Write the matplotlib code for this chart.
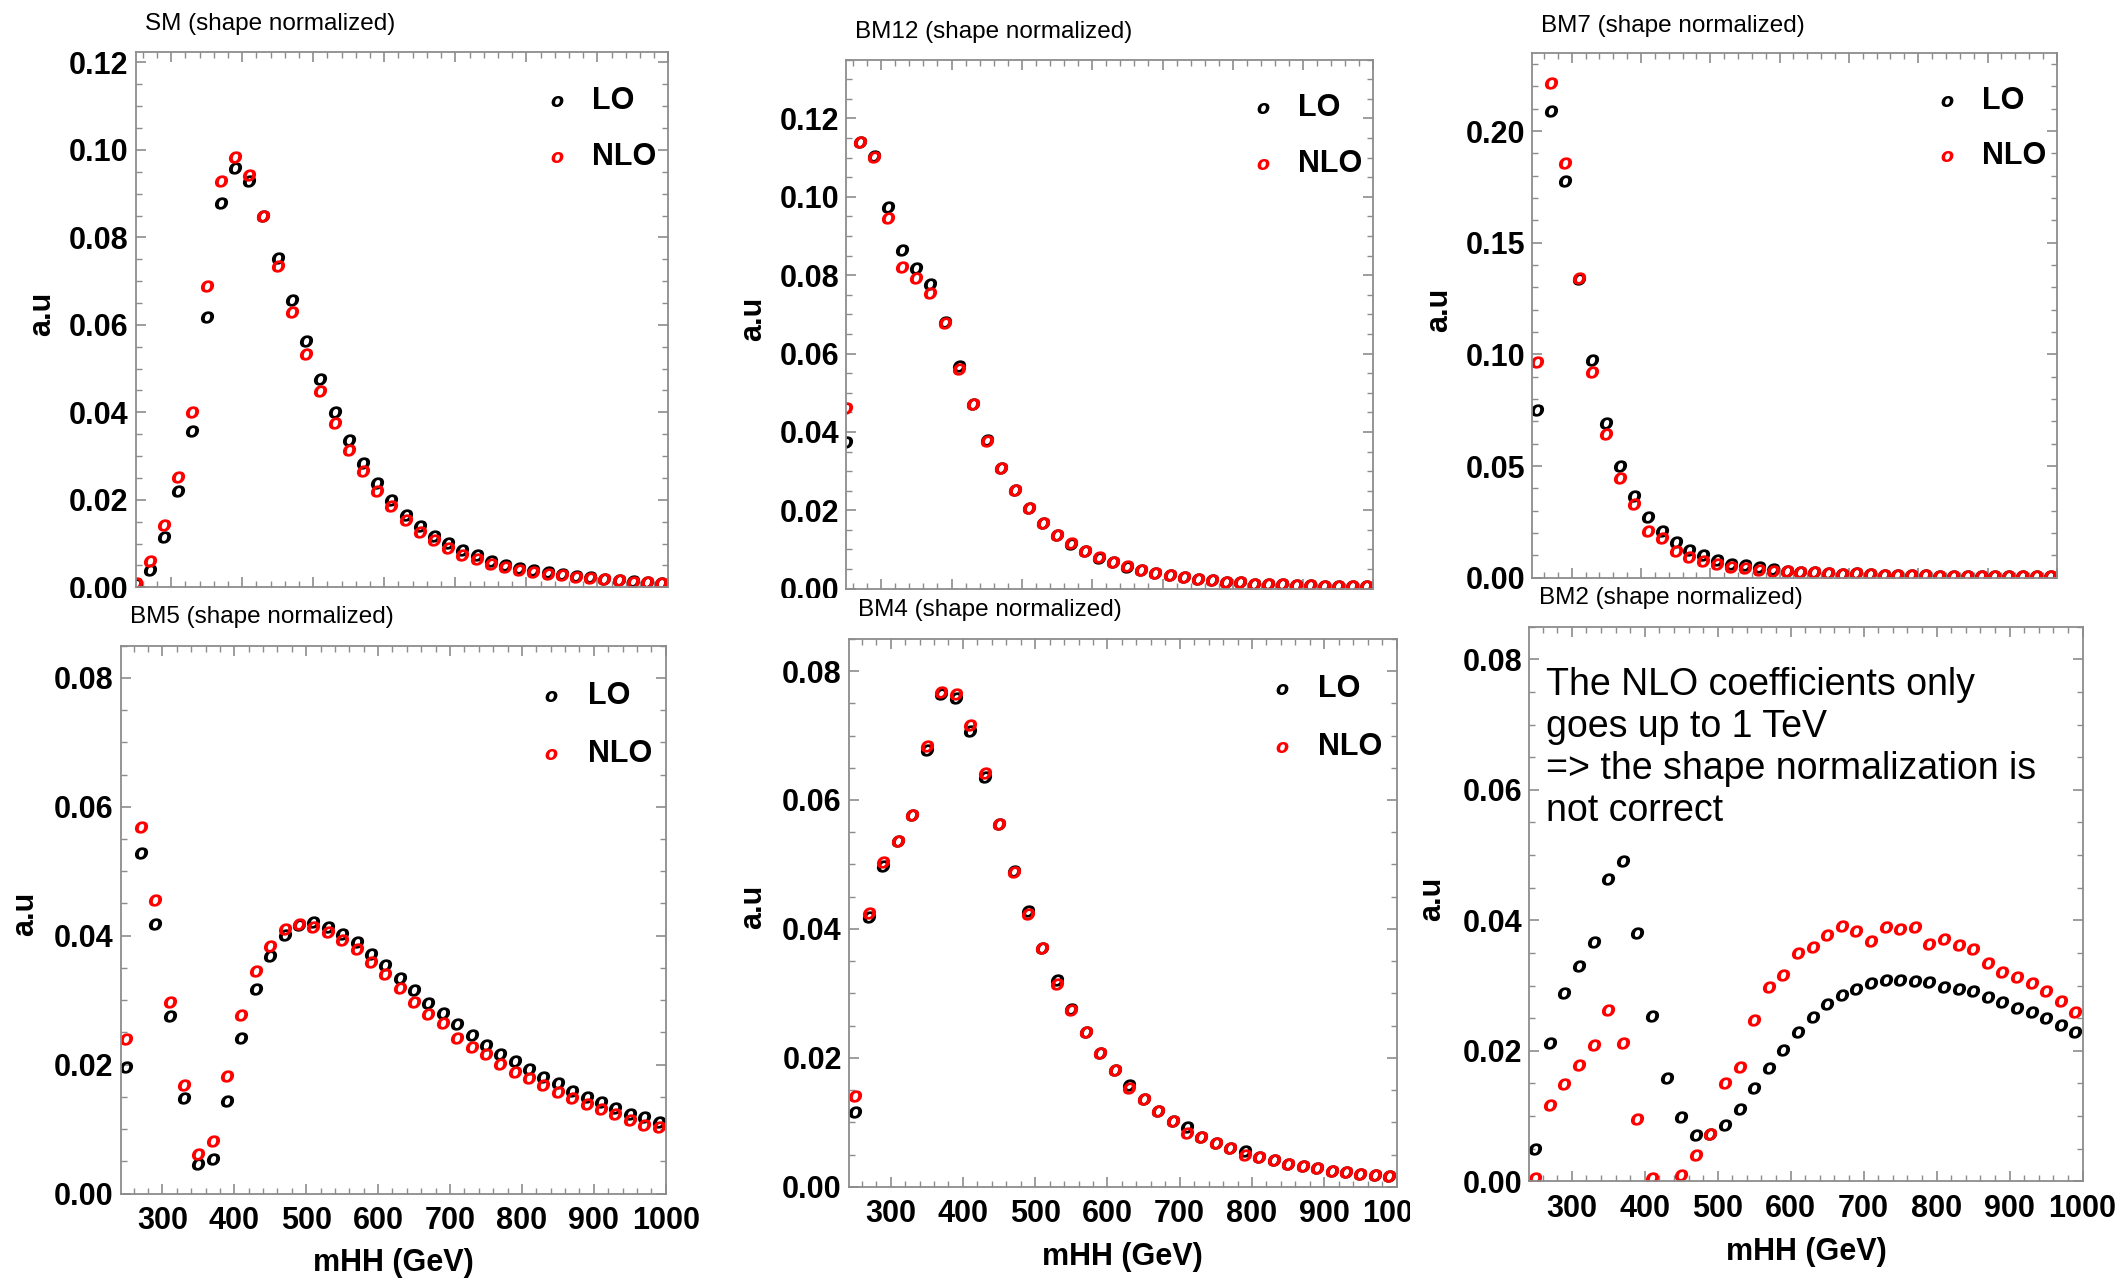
import numpy as np
import matplotlib
matplotlib.use("Agg")
import matplotlib.pyplot as plt
from matplotlib.ticker import MultipleLocator, FormatStrFormatter
from matplotlib.patches import Rectangle

# ---------------------------------------------------------------- data
mhh = [250, 270, 290, 310, 330, 350, 370, 390, 410, 430,
       450, 470, 490, 510, 530, 550, 570, 590, 610, 630,
       650, 670, 690, 710, 730, 750, 770, 790, 810, 830,
       850, 870, 890, 910, 930, 950, 970, 990]

sm_lo = [0.0008, 0.0039, 0.0116, 0.0221, 0.0357, 0.0617, 0.0878, 0.0958, 0.0930, 0.0850,
         0.0754, 0.0656, 0.0562, 0.0476, 0.0400, 0.0337, 0.0284, 0.0238, 0.0199, 0.0166,
         0.0140, 0.0118, 0.0101, 0.0085, 0.0073, 0.0061, 0.0052, 0.0044, 0.0039, 0.0034,
         0.0030, 0.0026, 0.0023, 0.0020, 0.0017, 0.0015, 0.0012, 0.0010]
sm_nlo = [0.0010, 0.0061, 0.0143, 0.0253, 0.0400, 0.0689, 0.0928, 0.0984, 0.0942, 0.0849,
          0.0735, 0.0630, 0.0534, 0.0449, 0.0376, 0.0315, 0.0267, 0.0220, 0.0185, 0.0153,
          0.0127, 0.0107, 0.0089, 0.0074, 0.0064, 0.0054, 0.0047, 0.0040, 0.0035, 0.0031,
          0.0027, 0.0024, 0.0021, 0.0018, 0.0016, 0.0013, 0.0011, 0.0009]

bm12_lo = [0.0375, 0.1140, 0.1105, 0.0974, 0.0863, 0.0819, 0.0777, 0.0680, 0.0568, 0.0470,
           0.0380, 0.0309, 0.0252, 0.0207, 0.0168, 0.0138, 0.0114, 0.0095, 0.0079, 0.0067,
           0.0055, 0.0047, 0.0041, 0.0034, 0.0029, 0.0024, 0.0021, 0.0017, 0.0016, 0.0013,
           0.0012, 0.0011, 0.0010, 0.0009, 0.0008, 0.0007, 0.0007, 0.0006]
bm12_nlo = [0.0460, 0.1139, 0.1101, 0.0947, 0.0821, 0.0793, 0.0755, 0.0678, 0.0560, 0.0470,
            0.0377, 0.0309, 0.0252, 0.0207, 0.0168, 0.0138, 0.0116, 0.0095, 0.0081, 0.0067,
            0.0057, 0.0047, 0.0041, 0.0035, 0.0029, 0.0024, 0.0021, 0.0017, 0.0016, 0.0013,
            0.0012, 0.0011, 0.0010, 0.0009, 0.0008, 0.0007, 0.0007, 0.0006]

bm7_lo = [0.0750, 0.2089, 0.1776, 0.1337, 0.0974, 0.0695, 0.0500, 0.0368, 0.0272, 0.0209,
          0.0161, 0.0123, 0.0101, 0.0080, 0.0063, 0.0057, 0.0048, 0.0039, 0.0031, 0.0027,
          0.0026, 0.0021, 0.0019, 0.0021, 0.0015, 0.0014, 0.0013, 0.0014, 0.0011, 0.0010,
          0.0010, 0.0009, 0.0009, 0.0009, 0.0008, 0.0008, 0.0008, 0.0007]
bm7_nlo = [0.0966, 0.2216, 0.1858, 0.1342, 0.0921, 0.0644, 0.0447, 0.0329, 0.0209, 0.0176,
           0.0118, 0.0092, 0.0077, 0.0062, 0.0048, 0.0046, 0.0036, 0.0029, 0.0031, 0.0027,
           0.0025, 0.0020, 0.0018, 0.0022, 0.0015, 0.0013, 0.0012, 0.0014, 0.0011, 0.0010,
           0.0010, 0.0009, 0.0009, 0.0008, 0.0008, 0.0008, 0.0007, 0.0007]

bm5_lo = [0.0196, 0.0529, 0.0418, 0.0275, 0.0149, 0.0046, 0.0053, 0.0143, 0.0241, 0.0318,
          0.0369, 0.0401, 0.0417, 0.0421, 0.0414, 0.0403, 0.0390, 0.0371, 0.0354, 0.0335,
          0.0316, 0.0296, 0.0280, 0.0263, 0.0246, 0.0231, 0.0217, 0.0205, 0.0193, 0.0181,
          0.0171, 0.0159, 0.0150, 0.0142, 0.0133, 0.0124, 0.0118, 0.0111]
bm5_nlo = [0.0239, 0.0569, 0.0455, 0.0297, 0.0168, 0.0062, 0.0082, 0.0183, 0.0277, 0.0346,
           0.0384, 0.0410, 0.0418, 0.0414, 0.0405, 0.0393, 0.0379, 0.0359, 0.0341, 0.0319,
           0.0297, 0.0279, 0.0265, 0.0241, 0.0227, 0.0216, 0.0201, 0.0188, 0.0179, 0.0169,
           0.0157, 0.0148, 0.0139, 0.0131, 0.0123, 0.0114, 0.0107, 0.0104]

bm4_lo = [0.0116, 0.0418, 0.0498, 0.0537, 0.0577, 0.0677, 0.0764, 0.0758, 0.0707, 0.0636,
          0.0562, 0.0490, 0.0428, 0.0370, 0.0321, 0.0276, 0.0240, 0.0208, 0.0181, 0.0158,
          0.0136, 0.0118, 0.0102, 0.0092, 0.0077, 0.0068, 0.0060, 0.0055, 0.0046, 0.0041,
          0.0036, 0.0032, 0.0029, 0.0025, 0.0023, 0.0020, 0.0018, 0.0016]
bm4_nlo = [0.0141, 0.0424, 0.0504, 0.0537, 0.0577, 0.0684, 0.0768, 0.0765, 0.0717, 0.0642,
           0.0562, 0.0489, 0.0423, 0.0370, 0.0314, 0.0274, 0.0240, 0.0208, 0.0181, 0.0153,
           0.0136, 0.0118, 0.0102, 0.0084, 0.0077, 0.0068, 0.0060, 0.0050, 0.0046, 0.0041,
           0.0036, 0.0032, 0.0029, 0.0025, 0.0023, 0.0020, 0.0018, 0.0016]

bm2_lo = [0.0050, 0.0212, 0.0289, 0.0330, 0.0367, 0.0464, 0.0491, 0.0381, 0.0253, 0.0158,
          0.0098, 0.0071, 0.0073, 0.0086, 0.0111, 0.0143, 0.0173, 0.0202, 0.0229, 0.0252,
          0.0271, 0.0285, 0.0295, 0.0304, 0.0308, 0.0308, 0.0307, 0.0306, 0.0298, 0.0294,
          0.0291, 0.0282, 0.0275, 0.0266, 0.0259, 0.0251, 0.0239, 0.0229]
bm2_nlo = [0.0005, 0.0117, 0.0149, 0.0178, 0.0209, 0.0262, 0.0212, 0.0096, 0.0005, np.nan,
           0.0010, 0.0041, 0.0072, 0.0150, 0.0175, 0.0247, 0.0298, 0.0316, 0.0350, 0.0359,
           0.0378, 0.0391, 0.0383, 0.0369, 0.0389, 0.0386, 0.0390, 0.0363, 0.0371, 0.0362,
           0.0356, 0.0334, 0.0321, 0.0313, 0.0304, 0.0291, 0.0276, 0.0259]

titles = ["SM (shape normalized)", "BM12 (shape normalized)", "BM7 (shape normalized)",
          "BM5 (shape normalized)", "BM4 (shape normalized)", "BM2 (shape normalized)"]
series_labels = ["LO", "NLO"]
note = ("The NLO coefficients only\ngoes up to 1 TeV\n"
        "=> the shape normalization is\nnot correct")
xlabel = "mHH (GeV)"
ylabel = "a.u"

# ---------------------------------------------------------------- style
plt.rcParams["font.family"] = ["Liberation Sans", "DejaVu Sans"]
plt.rcParams["font.weight"] = "bold"
FRAME = "#8c8c8c"
COLORS = ["black", "red"]
W, H = 1568.0, 943.0

fig = plt.figure(figsize=(21.26, 12.79), dpi=100)
fig.patch.set_facecolor("white")


def add_panel(box, z):
    l, t, r, b = box
    return fig.add_axes([l / W, 1 - b / H, (r - l) / W, (b - t) / H], zorder=z)


def draw_panel(ax, lo, nlo, title, xlim, ylim, ymaj, ymin,
               legend=True, show_xlabel=False):
    ax.plot(mhh, lo, linestyle="none", marker="$o$", ms=9.5, color=COLORS[0],
            markeredgewidth=0, label=series_labels[0])
    ax.plot(mhh, nlo, linestyle="none", marker="$o$", ms=9.5, color=COLORS[1],
            markeredgewidth=0, label=series_labels[1])
    ax.set_xlim(*xlim)
    ax.set_ylim(*ylim)
    ax.xaxis.set_major_locator(MultipleLocator(100))
    ax.xaxis.set_minor_locator(MultipleLocator(20))
    ax.yaxis.set_major_locator(MultipleLocator(ymaj))
    ax.yaxis.set_minor_locator(MultipleLocator(ymin))
    ax.yaxis.set_major_formatter(FormatStrFormatter("%.2f"))
    ax.tick_params(which="both", direction="in", top=True, right=True,
                   color=FRAME)
    ax.tick_params(which="major", length=7, width=1.2, labelsize=22)
    ax.tick_params(axis="y", which="major", pad=5)
    ax.tick_params(axis="x", which="major", pad=9)
    ax.tick_params(which="minor", length=4, width=1.0)
    for s in ax.spines.values():
        s.set_color(FRAME)
        s.set_linewidth(1.3)
    ax.set_ylabel(ylabel, fontsize=22, fontweight="bold")
    ax.yaxis.set_label_coords(-0.148, 0.51)
    if show_xlabel:
        ax.set_xlabel(xlabel, fontsize=22, fontweight="bold")
        ax.xaxis.set_label_coords(0.5, -0.100)
    ax.text(0.017, 1.052, title, transform=ax.transAxes, fontsize=17.5,
            fontweight="normal", ha="left", va="center")
    if legend:
        for k, yy in enumerate([0.908, 0.803]):
            ax.plot([0.79], [yy], transform=ax.transAxes, linestyle="none",
                    marker="$o$", ms=8.5, color=COLORS[k], markeredgewidth=0)
            ax.text(0.857, yy, series_labels[k], transform=ax.transAxes,
                    fontsize=22, fontweight="bold", ha="left", va="center")


# top row (drawn first, the lower row covers their tick labels)
ax_sm = add_panel((100, 38, 493, 433), 0)
draw_panel(ax_sm, sm_lo, sm_nlo, titles[0], (250, 1000), (0, 0.1225), 0.02, 0.005)

ax_b12 = add_panel((624, 44, 1013, 434), 0)
draw_panel(ax_b12, bm12_lo, bm12_nlo, titles[1], (250, 1000), (0, 0.135), 0.02, 0.005)

ax_b7 = add_panel((1130, 39, 1517, 426), 0)
draw_panel(ax_b7, bm7_lo, bm7_nlo, titles[2], (243, 1000), (0, 0.235), 0.05, 0.01)

# white backing for the lower row
fig.patches.append(Rectangle((0, 0), 1040 / W, 1 - 441 / H, transform=fig.transFigure,
                             facecolor="white", edgecolor="none", zorder=1))

ax_b5 = add_panel((89, 476, 491, 880), 2)
draw_panel(ax_b5, bm5_lo, bm5_nlo, titles[3], (242, 1000), (0, 0.085), 0.02, 0.005,
           show_xlabel=True)

ax_b4 = add_panel((626, 471, 1030, 875), 2)
draw_panel(ax_b4, bm4_lo, bm4_nlo, titles[4], (242, 1000), (0, 0.085), 0.02, 0.005,
           show_xlabel=True)

fig.patches.append(Rectangle((1040 / W, 0), 1 - 1040 / W, 1 - 434 / H,
                             transform=fig.transFigure,
                             facecolor="white", edgecolor="none", zorder=3))

ax_b2 = add_panel((1128, 462, 1536, 871), 4)
draw_panel(ax_b2, bm2_lo, bm2_nlo, titles[5], (242, 1000), (0, 0.085), 0.02, 0.005,
           legend=False, show_xlabel=True)
ax_b2.text(0.03, 0.928, note, transform=ax_b2.transAxes, fontsize=27,
           fontweight="normal", ha="left", va="top", linespacing=1.22)

fig.savefig("out.png", dpi=100, facecolor="white")
